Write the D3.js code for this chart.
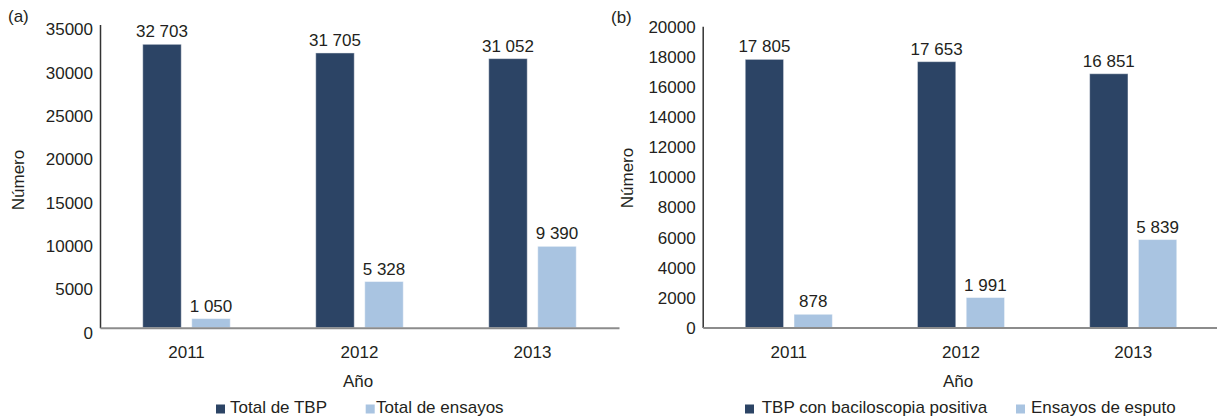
<!DOCTYPE html>
<html>
<head>
<meta charset="utf-8">
<script src="https://cdn.jsdelivr.net/npm/d3@7"></script>
<style>
  html, body { margin: 0; padding: 0; background: #fff; }
  svg { display: block; }
  text { font-family: "Liberation Sans", Arial, sans-serif; font-size: 17px; fill: #231f20; }
</style>
</head>
<body>
<svg id="chart" width="1217" height="417"></svg>
<script>
// ---------- data ----------
const years = ["2011", "2012", "2013"];

const seriesA = ["Total de TBP", "Total de ensayos"];
const tbpA = [32703, 31705, 31052];
const ensayosA = [1050, 5328, 9390];
const ticksA = [0, 5000, 10000, 15000, 20000, 25000, 30000, 35000];

const seriesB = ["TBP con baciloscopia positiva", "Ensayos de esputo"];
const tbpB = [17805, 17653, 16851];
const esputoB = [878, 1991, 5839];
const ticksB = [0, 2000, 4000, 6000, 8000, 10000, 12000, 14000, 16000, 18000, 20000];

const colors = ["#2c4465", "#a9c4e1"];

const fmt = d3.formatLocale({ decimal: ",", thousands: " ", grouping: [3], currency: ["", ""] }).format(",d");

const svg = d3.select("#chart");

function panel(cfg) {
  const g = svg.append("g");
  const x0 = d3.scaleBand().domain(years).range([cfg.left, cfg.right]).padding(0);
  const x1 = d3.scaleBand().domain([0, 1]).range([0, x0.bandwidth()]).paddingInner(0.214).paddingOuter(0.872);
  const y = d3.scaleLinear().domain([0, cfg.max]).range([cfg.base, cfg.top]);

  const rows = years.map((yr, i) => ({ yr, vals: [cfg.s1[i], cfg.s2[i]] }));

  // bars
  const grp = g.selectAll("g.grp").data(rows).join("g")
    .attr("transform", d => `translate(${x0(d.yr)},0)`);
  grp.selectAll("rect").data(d => d.vals.map((v, k) => ({ v, k }))).join("rect")
    .attr("x", d => x1(d.k))
    .attr("width", x1.bandwidth())
    .attr("y", d => y(d.v))
    .attr("height", d => cfg.base - y(d.v))
    .attr("fill", d => colors[d.k])
    .attr("stroke", "rgba(255,255,255,0.45)")
    .attr("stroke-width", 1);
  grp.selectAll("text.val").data(d => d.vals.map((v, k) => ({ v, k }))).join("text")
    .attr("class", "val")
    .attr("x", d => x1(d.k) + x1.bandwidth() / 2)
    .attr("y", d => y(d.v) - 7)
    .attr("text-anchor", "middle")
    .text(d => fmt(d.v));

  // y axis
  const ya = g.append("g").attr("transform", `translate(${cfg.left},0)`)
    .call(d3.axisLeft(y).tickValues(cfg.ticks).tickSize(0).tickSizeOuter(0).tickPadding(7).tickFormat(d => String(d)));
  ya.select(".domain").attr("stroke", "#333").attr("stroke-width", 1.5);
  ya.selectAll(".tick text").attr("font-size", null).attr("font-family", null).attr("dy", (0.32 * 17 + cfg.labelShift) + "px");

  // x axis
  const xa = g.append("g").attr("transform", `translate(0,${cfg.base})`)
    .call(d3.axisBottom(x0).tickSize(0).tickSizeOuter(0).tickPadding(18));
  xa.select(".domain").attr("stroke", "#8c8c8c").attr("stroke-width", 2);
  xa.selectAll(".tick text").attr("font-size", null).attr("font-family", null);
  svg.selectAll(".tick line").remove();

  // axis titles
  g.append("text").attr("x", cfg.anoX).attr("y", 387).attr("text-anchor", "middle").text("Año");
  g.append("text").attr("transform", `translate(${cfg.numX},${cfg.numY}) rotate(-90)`)
    .attr("text-anchor", "middle").text("Número");
  g.append("text").attr("x", cfg.labX).attr("y", cfg.labY).text(cfg.label);

  // legend
  const lg = g.append("g");
  cfg.series.forEach((s, k) => {
    lg.append("rect").attr("x", cfg.legSq[k]).attr("y", 404.5).attr("width", 9).attr("height", 9).attr("fill", colors[k]);
    lg.append("text").attr("x", cfg.legTx[k]).attr("y", 412.5).text(s);
  });
}

panel({
  left: 100, right: 619, base: 327.7, top: 24.4, max: 35000, ticks: ticksA, labelShift: 5,
  s1: tbpA, s2: ensayosA, series: seriesA,
  anoX: 358, numX: 24, numY: 180, labX: 8, labY: 21.5, label: "(a)",
  legSq: [216, 365.7], legTx: [230, 376]
});
panel({
  left: 702.7, right: 1219.3, base: 327.5, top: 26.3, max: 20000, ticks: ticksB, labelShift: 0.5,
  s1: tbpB, s2: esputoB, series: seriesB,
  anoX: 958, numX: 633, numY: 178, labX: 611, labY: 23, label: "(b)",
  legSq: [745, 1016], legTx: [761.7, 1031]
});
</script>
</body>
</html>
